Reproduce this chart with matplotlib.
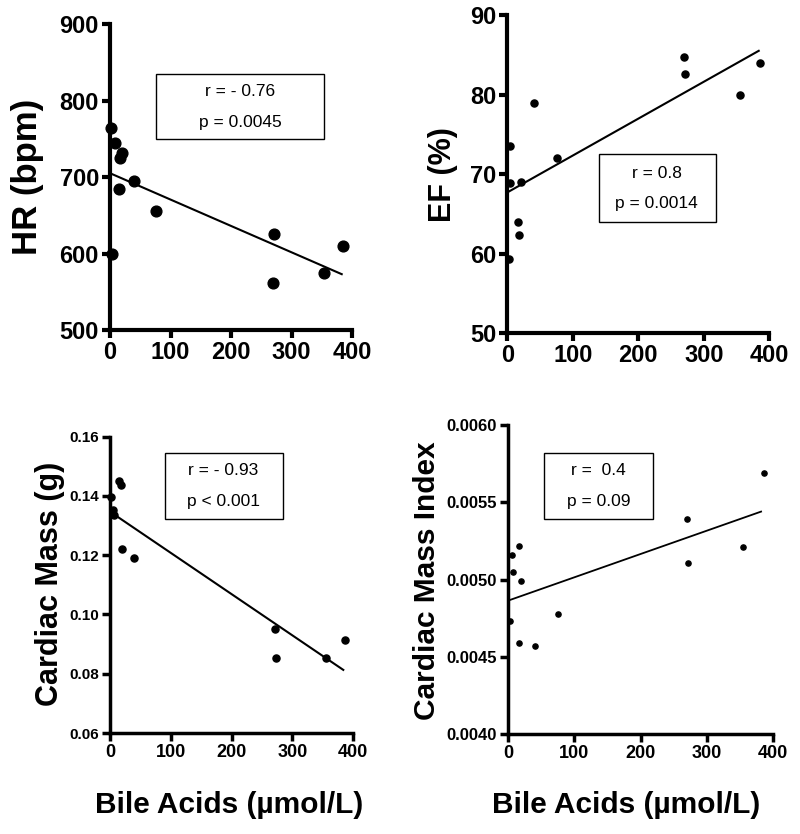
#!/usr/bin/env python3
"""Bile acids vs cardiac parameters: four scatter panels with fit lines."""

import matplotlib
matplotlib.use("Agg")
import matplotlib.pyplot as plt
from matplotlib.patches import Rectangle
from matplotlib.ticker import FormatStrFormatter

plt.rcParams["font.family"] = ["Liberation Sans", "DejaVu Sans"]

# --- data ---------------------------------------------------------------
hr_x = [1, 8, 20, 17, 15, 40, 76, 3, 271, 269, 353, 385]
hr_y = [764, 744, 731, 725, 684, 695, 655, 600, 625, 561, 575, 610]
hr_fit_x = [0, 383]
hr_fit_y = [705, 573]

ef_x = [5, 5, 21, 16, 18, 3, 41, 76, 270, 272, 355, 386]
ef_y = [73.5, 68.9, 69.0, 64.0, 62.4, 59.4, 79.0, 72.0, 84.7, 82.6, 80.0, 84.0]
ef_fit_x = [0, 384]
ef_fit_y = [67.7, 85.5]

cm_x = [15, 18, 1, 5, 7, 19, 40, 271, 273, 356, 387]
cm_y = [0.1452, 0.1437, 0.1395, 0.1353, 0.1336, 0.1221, 0.1192,
        0.0952, 0.0852, 0.0852, 0.0913]
cm_fit_x = [0, 384]
cm_fit_y = [0.1347, 0.0813]

cmi_x = [17, 6, 8, 20, 3, 16, 41, 76, 270, 272, 354, 386]
cmi_y = [0.00522, 0.00516, 0.00505, 0.00499, 0.00473, 0.00459, 0.00457,
         0.00478, 0.00539, 0.00511, 0.00521, 0.00569]
cmi_fit_x = [0, 382]
cmi_fit_y = [0.004864, 0.005440]

x_ticks = [0, 100, 200, 300, 400]


def style_axes(ax, yticks, tick_fs, spine_w, fmt=None):
    for side in ("top", "right"):
        ax.spines[side].set_visible(False)
    for side in ("left", "bottom"):
        ax.spines[side].set_linewidth(spine_w)
        ax.spines[side].set_capstyle("projecting")
    ax.set_xlim(0, 400)
    ax.set_ylim(yticks[0], yticks[-1])
    ax.set_xticks(x_ticks)
    ax.set_yticks(yticks)
    if fmt:
        ax.yaxis.set_major_formatter(FormatStrFormatter(fmt))
    ax.tick_params(direction="out", length=6, width=spine_w, pad=2,
                   labelsize=tick_fs)
    for lab in ax.get_xticklabels() + ax.get_yticklabels():
        lab.set_fontweight("bold")


def stat_box(ax, x0, y0, x1, y1, xc, ytexts, texts, fs):
    ax.add_patch(Rectangle((x0, y0), x1 - x0, y1 - y0, transform=ax.transAxes,
                           fill=False, edgecolor="black", linewidth=1.0,
                           clip_on=False, zorder=4))
    for yt, t in zip(ytexts, texts):
        ax.text(xc, yt, t, transform=ax.transAxes, ha="center", va="center",
                fontsize=fs, zorder=5)


def ylabel(ax, text, fs, xpos, ypos):
    ax.set_ylabel(text, fontsize=fs, fontweight="bold", va="center")
    ax.yaxis.set_label_coords(xpos, ypos)


fig = plt.figure(figsize=(8, 8.34), dpi=100)

# HR panel
ax1 = fig.add_axes([0.1375, 0.6043, 0.3025, 0.3669])
ax1.scatter(hr_x, hr_y, s=60, color="black", zorder=5, clip_on=False)
ax1.plot(hr_fit_x, hr_fit_y, color="black", lw=1.5)
style_axes(ax1, [500, 600, 700, 800, 900], 17, 3.0)
ylabel(ax1, "HR (bpm)", 25, -0.339, 0.5)
stat_box(ax1, 0.19, 0.624, 0.884, 0.837, 0.537, [0.779, 0.678],
         ["r = - 0.76", "p = 0.0045"], 12.5)

# EF panel
ax2 = fig.add_axes([0.634, 0.6003, 0.3275, 0.3817])
ax2.scatter(ef_x, ef_y, s=26, color="black", zorder=5, clip_on=False)
ax2.plot(ef_fit_x, ef_fit_y, color="black", lw=1.5)
style_axes(ax2, [50, 60, 70, 80, 90], 17, 3.0)
ylabel(ax2, "EF (%)", 22, -0.244, 0.5)
stat_box(ax2, 0.35, 0.351, 0.798, 0.562, 0.571, [0.503, 0.408],
         ["r = 0.8", "p = 0.0014"], 12.5)

# Cardiac mass panel
ax3 = fig.add_axes([0.1375, 0.1211, 0.30375, 0.3553])
ax3.scatter(cm_x, cm_y, s=26, color="black", zorder=5, clip_on=False)
ax3.plot(cm_fit_x, cm_fit_y, color="black", lw=1.5)
style_axes(ax3, [0.06, 0.08, 0.10, 0.12, 0.14, 0.16], 11, 2.5, "%.2f")
ax3.tick_params(axis="x", labelsize=13)
ylabel(ax3, "Cardiac Mass (g)", 22, -0.247, 0.503)
stat_box(ax3, 0.226, 0.721, 0.711, 0.946, 0.466, [0.885, 0.781],
         ["r = - 0.93", "p < 0.001"], 12.5)

# Cardiac mass index panel
ax4 = fig.add_axes([0.635, 0.1196, 0.33125, 0.3708])
ax4.scatter(cmi_x, cmi_y, s=14, color="black", zorder=5, clip_on=False)
ax4.plot(cmi_fit_x, cmi_fit_y, color="black", lw=1.3)
style_axes(ax4, [0.0040, 0.0045, 0.0050, 0.0055, 0.0060], 12, 2.5, "%.4f")
ax4.tick_params(axis="x", labelsize=13)
ylabel(ax4, "Cardiac Mass Index", 21.5, -0.307, 0.496)
stat_box(ax4, 0.136, 0.695, 0.546, 0.910, 0.341, [0.852, 0.752],
         ["r =  0.4", "p = 0.09"], 12.5)

for xc in (229 / 800, 626 / 800):
    fig.text(xc, 0.0348, "Bile Acids (µmol/L)", ha="center", va="center",
             fontsize=21.5, fontweight="bold")

fig.savefig("out.png", dpi=100)
plt.close(fig)
